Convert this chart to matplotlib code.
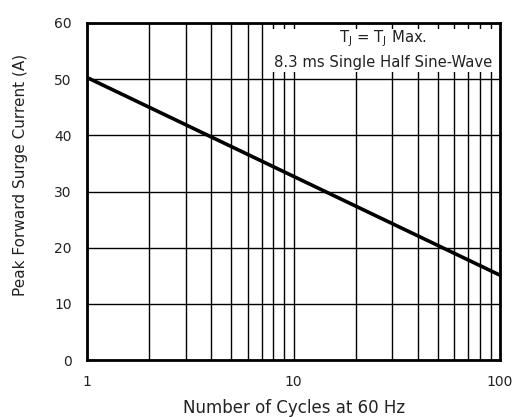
import matplotlib
matplotlib.use("Agg")
import matplotlib.pyplot as plt
from matplotlib.ticker import LogLocator, NullFormatter
from matplotlib.patches import Rectangle

plt.rcParams['font.family'] = ['DejaVu Sans']

cycles = [1, 100]
current = [50.3, 15.1]
xticks = [1, 10, 100]
xticklabels = ['1', '10', '100']
yticks = [0, 10, 20, 30, 40, 50, 60]

W, H = 516, 417
fig = plt.figure(figsize=(W/100, H/100), dpi=100)
ax = fig.add_axes([87/W, 1-360/H, (500-87)/W, (360-23)/H])
ax.set_xscale('log')
ax.set_xlim(1, 100)
ax.set_ylim(0, 60)
ax.set_xticks(xticks)
ax.set_xticklabels(xticklabels)
ax.xaxis.set_minor_locator(LogLocator(base=10, subs=range(2, 10)))
ax.xaxis.set_minor_formatter(NullFormatter())
ax.set_yticks(yticks)
ax.grid(True, which='both', axis='x', color='black', linewidth=1.0)
ax.grid(True, which='major', axis='y', color='black', linewidth=1.0)
ax.tick_params(which='both', length=0, labelsize=10, colors='#222222')
ax.tick_params(axis='x', pad=11)
ax.tick_params(axis='y', pad=11)
for s in ax.spines.values():
    s.set_linewidth(2.0)
    s.set_zorder(5)
ax.plot(cycles, current, color='black', linewidth=2.6, zorder=3)
ax.set_xlabel('Number of Cycles at 60 Hz', fontsize=12, color='#222222')
ax.xaxis.set_label_coords((294-87)/413, -(408-360)/337)
ax.xaxis.label.set_va('center')
ax.set_ylabel('Peak Forward Surge Current (A)', fontsize=11, color='#222222')
ax.yaxis.set_label_coords(-(87-21)/413, (360-175)/337)
ax.yaxis.label.set_va('center')
ax.add_patch(Rectangle(((264-87)/413, (360-72)/337), (497-264)/413, (72-29)/337,
                       transform=ax.transAxes, facecolor='white', edgecolor='none', zorder=4))
ax.text((383.5-87)/413, (360-39)/337, 'T$_\\mathregular{J}$ = T$_\\mathregular{J}$ Max.',
        transform=ax.transAxes, ha='center', va='center', fontsize=10.7, color='#222222', zorder=5)
ax.text((383.5-87)/413, (360-62.5)/337, '8.3 ms Single Half Sine-Wave',
        transform=ax.transAxes, ha='center', va='center', fontsize=10.7, color='#222222', zorder=5)
fig.savefig('out.png', dpi=100)
